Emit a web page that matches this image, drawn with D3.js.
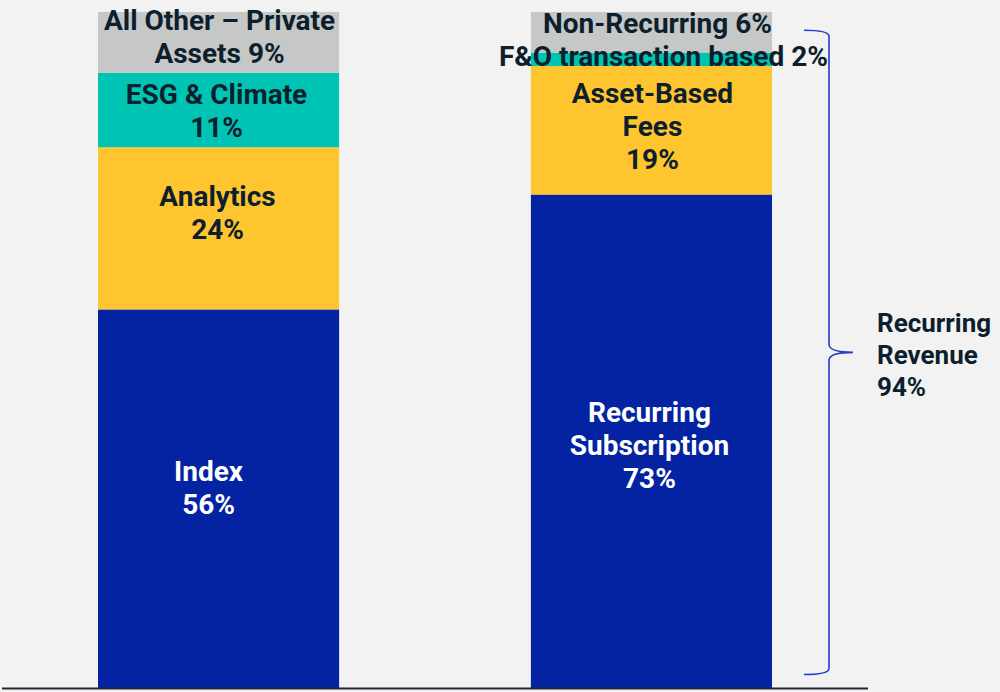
<!DOCTYPE html>
<html>
<head>
<meta charset="utf-8">
<script src="https://cdn.jsdelivr.net/npm/d3@7"></script>
<style>
  html, body { margin: 0; padding: 0; background: #f2f2f2; }
  svg { display: block; font-family: Roboto, "Open Sans", sans-serif; }
</style>
</head>
<body>
<div id="chart"></div>
<script>
// bars (left to right)
const bars = ["Segments", "Revenue type"];

// segments, bottom to top, share in %
const segmentNames = [
  ["Index", "Analytics", "ESG & Climate", "All Other – Private Assets"],
  ["Recurring Subscription", "Asset-Based Fees", "F&O transaction based", "Non-Recurring"]
];
const segmentValues = [
  [56, 24, 11, 9],
  [73, 19, 2, 6]
];
// label lines as printed on the picture
const segmentLabels = [
  [["Index", "56%"], ["Analytics", "24%"], ["ESG & Climate", "11%"], ["All Other – Private", "Assets 9%"]],
  [["Recurring", "Subscription", "73%"], ["Asset-Based", "Fees", "19%"], ["F&O transaction based 2%"], ["Non-Recurring 6%"]]
];
const bracketLabel = ["Recurring", "Revenue", "94%"];

const width = 1000, height = 692;
const margin = { top: 12, right: 132, bottom: 4, left: 0 };

const colours = ["#0323a3", "#ffc52f", "#00c4b3", "#c6c7c7"];
const textColours = ["#ffffff", "#0d1f2d", "#0d1f2d", "#0d1f2d"];
// small nudges so labels sit like the original (px)
const labelShiftY = [
  [-11, -16, 0, -6],
  [4, -4, -3, -9]
];
const labelShiftX = [
  [-10, -1, -2, 1],
  [-2, 1, 12, 6]
];

const svg = d3.select("#chart").append("svg")
  .attr("width", width)
  .attr("height", height);

svg.append("rect").attr("width", width).attr("height", height).attr("fill", "#f2f2f2");

const x = d3.scaleBand(bars, [98, 772]).paddingInner(0.443).paddingOuter(0);
const y = d3.scaleLinear([0, 100], [height - margin.bottom, margin.top]);

/* stack each bar */
const stacks = segmentValues.map(vals => {
  let acc = 0;
  return vals.map(v => { const s = { y0: acc, y1: acc + v }; acc += v; return s; });
});

const FS = 28, LH = 33;

bars.forEach((b, bi) => {
  const g = svg.append("g");
  g.selectAll("rect")
    .data(stacks[bi])
    .join("rect")
      .attr("x", x(b))
      .attr("width", x.bandwidth())
      .attr("y", d => y(d.y1))
      .attr("height", d => y(d.y0) - y(d.y1))
      .attr("fill", (d, i) => colours[i]);

  g.selectAll("text")
    .data(stacks[bi])
    .join("text")
      .attr("text-anchor", "middle")
      .attr("font-size", FS)
      .attr("font-weight", 700)
      .attr("fill", (d, i) => textColours[i])
      .each(function (d, i) {
        const lines = segmentLabels[bi][i];
        const cx = x(b) + x.bandwidth() / 2 + labelShiftX[bi][i];
        const cy = (y(d.y0) + y(d.y1)) / 2 + labelShiftY[bi][i];
        const first = cy - (lines.length - 1) * LH / 2 + FS * 0.36;
        d3.select(this).selectAll("tspan")
          .data(lines)
          .join("tspan")
            .attr("x", cx)
            .attr("y", (l, j) => first + j * LH)
            .text(l => l);
      });
});

/* baseline */
svg.append("line")
  .attr("x1", 2).attr("x2", 868)
  .attr("y1", y(0) + 0.5).attr("y2", y(0) + 0.5)
  .attr("stroke", "#1b2a38")
  .attr("stroke-width", 2);

/* curly bracket for recurring revenue */
const bTop = y(97.3), bBot = y(2), bMid = (bTop + bBot) / 2;
const bx0 = 804, bx1 = 829, tip = 853;
svg.append("path")
  .attr("d", `M${bx0},${bTop} Q${bx1},${bTop} ${bx1},${bTop + 6}
              L${bx1},${bMid - 8} Q${bx1},${bMid} ${tip},${bMid}
              Q${bx1},${bMid} ${bx1},${bMid + 8}
              L${bx1},${bBot - 6} Q${bx1},${bBot} ${bx0},${bBot}`)
  .attr("fill", "none")
  .attr("stroke", "#1f3ccc")
  .attr("stroke-width", 1.6);

svg.append("text")
  .attr("font-size", 26)
  .attr("font-weight", 700)
  .attr("fill", "#0d1f2d")
  .selectAll("tspan")
  .data(bracketLabel)
  .join("tspan")
    .attr("x", 877)
    .attr("y", (d, i) => 332 + i * 32)
    .text(d => d);
</script>
</body>
</html>
